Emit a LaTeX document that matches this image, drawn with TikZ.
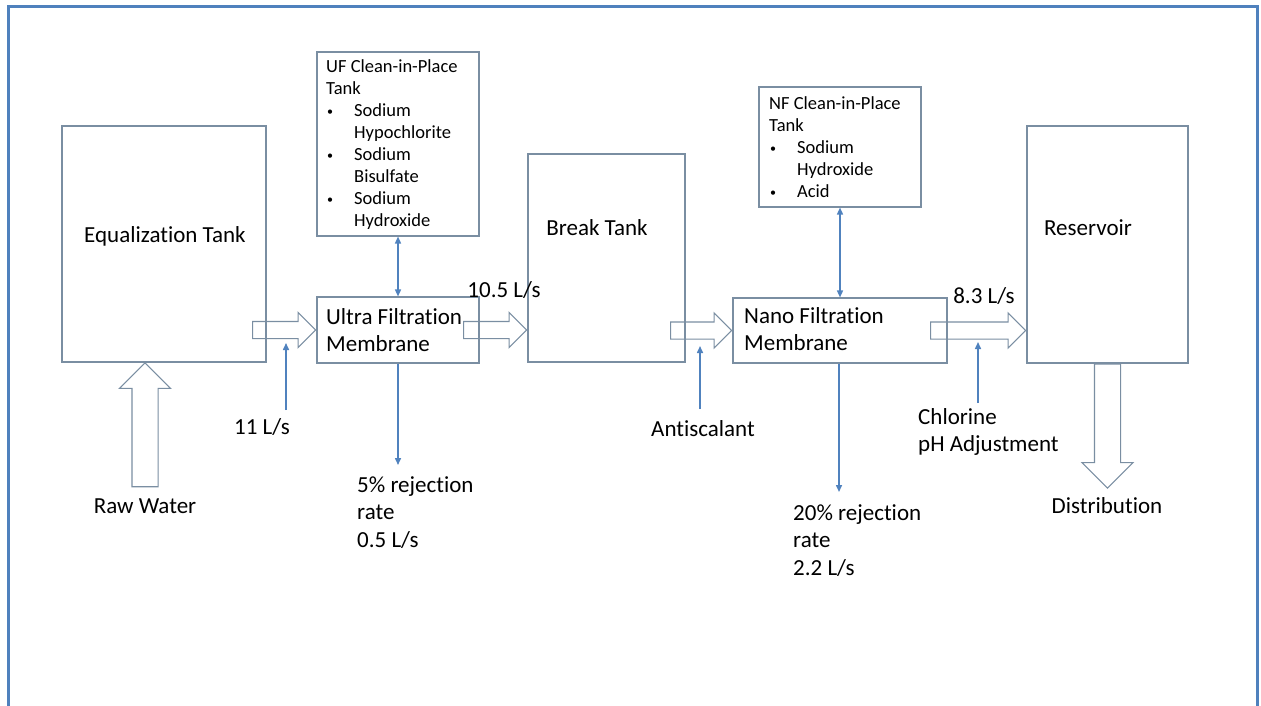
\documentclass[tikz,border=0pt]{standalone}
\usepackage{fontspec}
\setmainfont[Ligatures=NoCommon]{Carlito}
\usetikzlibrary{arrows.meta,shapes.arrows}
\definecolor{frameblue}{RGB}{79,129,189}
\definecolor{boxgray}{RGB}{122,142,162}
\definecolor{flowblue}{RGB}{80,130,190}
\tikzset{
  tank/.style={draw=boxgray, line width=1.1pt, inner sep=0pt},
  bigtext/.style={font=\fontsize{23}{27.5}\selectfont, inner sep=0pt, align=left},
  smalltext/.style={font=\fontsize{18.5}{22.1}\selectfont, inner sep=0pt, align=left},
  flow/.style={single arrow, draw=boxgray, line width=1.1pt, inner xsep=0pt, inner ysep=8pt,
    single arrow head extend=9pt},
  bigflow/.style={flow, inner ysep=12.5pt, single arrow head extend=12.5pt},
  feed/.style={flowblue, line width=1.5pt, -{Triangle[length=7pt,width=6pt]}},
  cipflow/.style={flowblue, line width=1.5pt, {Triangle[length=7pt,width=6pt]}-{Triangle[length=7pt,width=6pt]}}
}
\newcommand{\bul}{\makebox[28pt][l]{\hspace*{1pt}\raisebox{1.2pt}{\scalebox{0.65}{\textbullet}}}}
\newcommand{\ind}{\hspace*{28pt}}
\begin{document}
\begin{tikzpicture}[x=1pt, y=-1pt]
\useasboundingbox (0,0) rectangle (1261,706);
\draw[frameblue, line width=2.4pt] (8.5,706) -- (8.5,6.5) -- (1257.5,6.5) -- (1257.5,706);

% tanks and membranes
\node[tank, minimum width=204pt, minimum height=236pt] (eq) at (164,244) {};
\node[tank, minimum width=162pt, minimum height=66pt] (uf) at (398,330) {};
\node[tank, minimum width=162pt, minimum height=184pt] (ufcip) at (398,144) {};
\node[tank, minimum width=157pt, minimum height=208pt] (brk) at (606.5,258) {};
\node[tank, minimum width=214pt, minimum height=65pt] (nf) at (840,330.5) {};
\node[tank, minimum width=162pt, minimum height=120pt] (nfcip) at (840,147) {};
\node[tank, minimum width=161pt, minimum height=237pt] (res) at (1107.5,244.5) {};

\node[bigtext] (eqlab) at (165,236) {Equalization Tank};
\node[bigtext] (brklab) at (597,228) {Break Tank};
\node[bigtext] (reslab) at (1088,228) {Reservoir};
\node[bigtext, anchor=north west] (uflab) at (326,308) {Ultra Filtration\\Membrane};
\node[bigtext, anchor=north west] (nflab) at (744,307) {Nano Filtration\\Membrane};
\node[smalltext, anchor=north west] (ufciplab) at (326,59) {UF Clean-in-Place\\Tank\\\bul Sodium\\\ind Hypochlorite\\\bul Sodium\\\ind Bisulfate\\\bul Sodium\\\ind Hydroxide};
\node[smalltext, anchor=north west] (nfciplab) at (769,96) {NF Clean-in-Place\\Tank\\\bul Sodium\\\ind Hydroxide\\\bul Acid};

% main flow
\node[bigflow, minimum height=124pt, rotate=90, anchor=tip] (rawin) at (145,362) {};
\node[flow, minimum height=63pt, anchor=tip] (f1) at (uf.west) {};
\node[flow, minimum height=63pt, anchor=tip] (f2) at (brk.west |- uf.west) {};
\node[flow, minimum height=61pt, anchor=tip] (f3) at (nf.west) {};
\node[flow, minimum height=95pt, anchor=tip] (f4) at (res.west |- nf.west) {};
\node[bigflow, minimum height=124pt, rotate=-90, anchor=tail] (dist) at (res.south) {};

\node[bigtext] (rawlab) at (145,506) {Raw Water};
\node[bigtext] (q1) at (262,427) {11 L/s};
\node[bigtext] (q2) at (504,290) {10.5 L/s};
\node[bigtext] (q3) at (984,296) {8.3 L/s};
\node[bigtext] (distlab) at (1107,506) {Distribution};

% dosing and rejects
\coordinate (q1a) at (286,410);
\coordinate (q1b) at (286,343);
\coordinate (antia) at (700,409);
\coordinate (antib) at (700,346);
\coordinate (cla) at (978,403);
\coordinate (clb) at (978,342);
\coordinate (ufrej) at (398,465);
\coordinate (nfrej) at (839,492);
\draw[feed] (q1a) -- (q1b);
\draw[feed] (antia) -- (antib);
\draw[feed] (cla) -- (clb);
\draw[feed] (uf.south) -- (ufrej);
\draw[feed] (nf.south -| nfrej) -- (nfrej);
\draw[cipflow] (ufcip.south) -- (uf.north);
\draw[cipflow] (nfcip.south) -- (nfcip.south |- nf.north);

\node[bigtext] (antilab) at (703,429) {Antiscalant};
\node[bigtext, anchor=north west] (cllab) at (918,408) {Chlorine\\pH Adjustment};
\node[bigtext, anchor=north west] (ufrejlab) at (357,476) {5\% rejection\\rate\\0.5 L/s};
\node[bigtext, anchor=north west] (nfrejlab) at (793,504) {20\% rejection\\rate\\2.2 L/s};
\end{tikzpicture}
\end{document}
